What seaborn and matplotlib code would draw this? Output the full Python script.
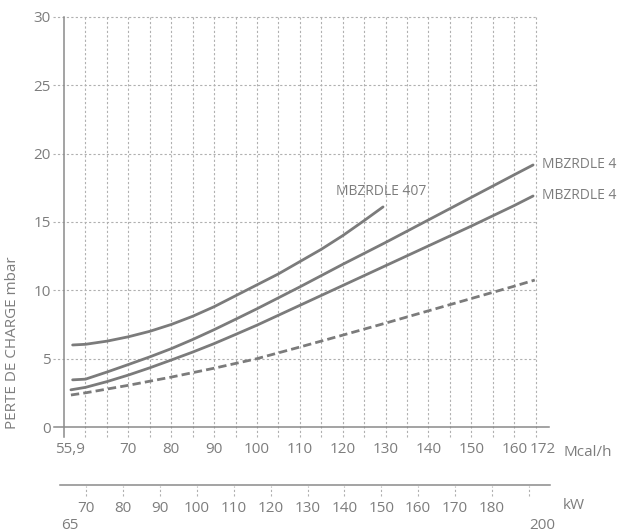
import matplotlib
matplotlib.use("Agg")
import matplotlib.pyplot as plt
import seaborn as sns
import numpy as np

# courbes de perte de charge (Mcal/h -> mbar)
flow_407 = [57, 60, 65, 70, 75, 80, 85, 90, 95, 100, 105, 110, 115, 120, 125, 129.4]
dp_407 = [6.0, 6.05, 6.28, 6.6, 7.0, 7.5, 8.1, 8.8, 9.6, 10.4, 11.2, 12.1, 13.0, 14.0, 15.1, 16.1]

flow_a = [57, 60, 65, 70, 75, 80, 85, 90, 95, 100, 110, 120, 130, 140, 150, 160, 164.4]
dp_a = [3.45, 3.5, 4.02, 4.57, 5.13, 5.73, 6.4, 7.12, 7.88, 8.65, 10.25, 11.9, 13.5, 15.15, 16.8, 18.45, 19.17]

flow_b = [56.6, 60, 65, 70, 75, 80, 85, 90, 95, 100, 110, 120, 130, 140, 150, 160, 164.4]
dp_b = [2.72, 2.9, 3.32, 3.8, 4.33, 4.9, 5.48, 6.1, 6.77, 7.45, 8.9, 10.35, 11.8, 13.25, 14.7, 16.2, 16.9]

flow_c = [56.6, 60, 70, 80, 90, 100, 110, 120, 130, 140, 150, 160, 164.8]
dp_c = [2.34, 2.5, 3.05, 3.65, 4.3, 5.0, 5.85, 6.72, 7.6, 8.5, 9.4, 10.3, 10.75]

label_407 = "MBZRDLE 407"
label_a = "MBZRDLE 4"
label_b = "MBZRDLE 4"

y_ticks = [0, 5, 10, 15, 20, 25, 30]
mcal_ticks = [70, 80, 90, 100, 110, 120, 130, 140, 150, 160]
mcal_end_labels = ["55,9", "172"]
mcal_end_pos = [56.4, 166.6]
kw_ticks = [70, 80, 90, 100, 110, 120, 130, 140, 150, 160, 170, 180, 190]
kw_labels = ["70", "80", "90", "100", "110", "120", "130", "140", "150", "160", "170", "180", ""]
kw_end_labels = ["65", "200"]
kw_pos = [k * 0.86 for k in kw_ticks]

LINE = "#7b7b7b"
GRID = "#b0b0b0"
SPINE = "#8a8a8a"
TEXT = "#7d7d7d"

sns.set_style("white")
plt.rcParams["font.family"] = ["Open Sans", "DejaVu Sans"]

fig = plt.figure(figsize=(6.18, 5.32), dpi=100)
ax = fig.add_axes([0.08285, 0.17167, 0.8186, 0.8017])
ax.set_xlim(52, 170)
ax.set_ylim(-1, 30.2)
ax.patch.set_visible(False)

# grille pointillee
dot = (0, (2, 2))
ax.hlines(y_ticks[1:], 52.4, 165, colors=GRID, linestyles=dot, lw=0.8, zorder=1)
ax.vlines(np.arange(60, 166, 5), -0.75, 30, colors=GRID, linestyles=dot, lw=0.8, zorder=1)

sns.lineplot(x=flow_407, y=dp_407, ax=ax, color=LINE, lw=2)
sns.lineplot(x=flow_a, y=dp_a, ax=ax, color=LINE, lw=2)
sns.lineplot(x=flow_b, y=dp_b, ax=ax, color=LINE, lw=2)
sns.lineplot(x=flow_c, y=dp_c, ax=ax, color=LINE, lw=2, linestyle=(0, (3, 1.5)))

ax.text(129, 17.2, label_407, ha="center", va="center", fontsize=10, color=TEXT)
ax.text(166.5, dp_a[-1], label_a, ha="left", va="center", fontsize=10, color=TEXT)
ax.text(166.5, dp_b[-1] + 0.05, label_b, ha="left", va="center", fontsize=10, color=TEXT)

for s in ["top", "right"]:
    ax.spines[s].set_visible(False)
ax.spines["left"].set_position(("data", 55))
ax.spines["left"].set_bounds(-0.75, 30)
ax.spines["bottom"].set_position(("data", 0))
ax.spines["bottom"].set_bounds(52.6, 168.1)
for s in ["left", "bottom"]:
    ax.spines[s].set_color(SPINE)
    ax.spines[s].set_linewidth(1.1)

ax.set_yticks(y_ticks)
ax.tick_params(axis="y", length=0, pad=9.4, labelsize=11, labelcolor=TEXT)
ax.set_xticks(mcal_end_pos, mcal_end_labels)
ax.set_xticks(mcal_ticks, [str(v) for v in mcal_ticks], minor=True)
ax.tick_params(axis="x", which="major", length=7.5, width=1.1, color=SPINE, pad=3.3,
               labelsize=11, labelcolor=TEXT)
ax.tick_params(axis="x", which="minor", length=0, pad=10.8, labelsize=11, labelcolor=TEXT)
ax.text(171.4, -1.85, "Mcal/h", ha="left", va="center", fontsize=11, color=TEXT)

ax.set_ylabel("PERTE DE CHARGE mbar", fontsize=11, color=TEXT)
ax.yaxis.set_label_coords(-0.0617, 0.229)

# axe secondaire kW
ax2 = fig.add_axes([0.08285, 0.06579, 0.8186, 0.02256])
ax2.set_xlim(52, 170)
ax2.set_ylim(-12, 0)
ax2.patch.set_visible(False)
for s in ["left", "right", "bottom"]:
    ax2.spines[s].set_visible(False)
ax2.spines["top"].set_bounds(54.05, 168.35)
ax2.spines["top"].set_color(SPINE)
ax2.spines["top"].set_linewidth(1.1)
ax2.set_yticks([])
ax2.vlines(kw_pos, -11, -1.5, colors=GRID, linestyles=dot, lw=0.8)
ax2.set_xticks(mcal_end_pos, kw_end_labels)
ax2.set_xticks(kw_pos, kw_labels, minor=True)
ax2.tick_params(axis="x", which="major", direction="inout", length=16.6, width=1.1,
                color=SPINE, pad=6.5, labelsize=11, labelcolor=TEXT)
ax2.tick_params(axis="x", which="minor", length=0, pad=3.0, labelsize=11, labelcolor=TEXT)
ax2.text(171.4, -20, "kW", ha="left", va="center", fontsize=11, color=TEXT)

fig.savefig("out.png", dpi=100)
